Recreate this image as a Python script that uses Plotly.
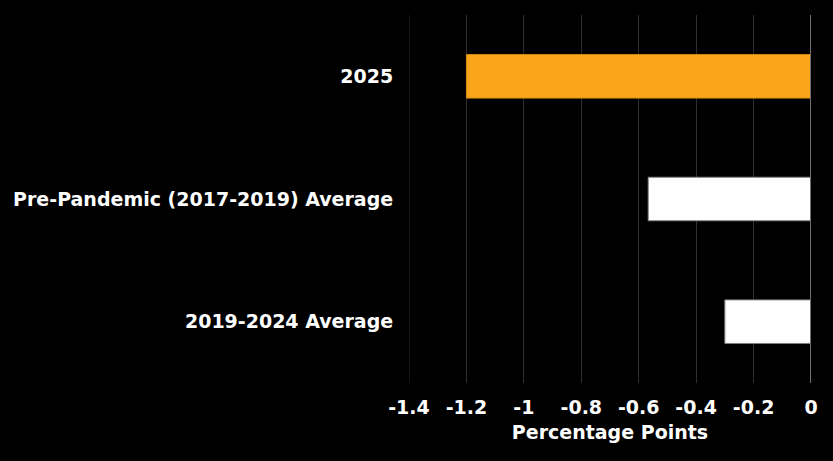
import plotly.graph_objects as go

categories = ["2019-2024 Average", "Pre-Pandemic (2017-2019) Average", "2025"]
values = [-0.30, -0.567, -1.20]
colors = ["#FFFFFF", "#FFFFFF", "#FBA51B"]
line_colors = ["#7F7F7F", "#7F7F7F", "#D08A10"]
tick_vals = [-1.4, -1.2, -1.0, -0.8, -0.6, -0.4, -0.2, 0]
tick_text = ["-1.4", "-1.2", "-1", "-0.8", "-0.6", "-0.4", "-0.2", "0"]

font_family = "DejaVu Sans"
fs = 19

fig = go.Figure(go.Bar(
    y=categories, x=values, orientation="h",
    marker=dict(color=colors, line=dict(color=line_colors, width=1)),
    width=0.355,
    hoverinfo="skip",
))

fig.update_layout(
    width=833, height=461,
    paper_bgcolor="#000000", plot_bgcolor="#000000",
    margin=dict(l=409, r=22, t=15, b=78),
    showlegend=False,
    font=dict(family=font_family, color="#FFFFFF", size=fs),
    xaxis=dict(
        range=[-1.4, 0.0], tickvals=tick_vals, ticktext=tick_text,
        showgrid=True, gridcolor="#2E2E2E", gridwidth=1,
        zeroline=False, showline=False,
        tickfont=dict(family=font_family, size=fs, color="#FFFFFF", weight="bold"),
        title=dict(text="<b>Percentage Points</b>", font=dict(family=font_family, size=fs, color="#FFFFFF"), standoff=8),
        ticks="outside", ticklen=7, tickcolor="rgba(0,0,0,0)", fixedrange=True,
    ),
    yaxis=dict(
        showgrid=False, zeroline=False, showline=False,
        tickfont=dict(family=font_family, size=fs, color="#FFFFFF", weight="bold"),
        ticks="outside", ticklen=11, tickcolor="rgba(0,0,0,0)",
        range=[-0.5, 2.5], fixedrange=True,
    ),
    shapes=[
        dict(type="line", xref="x", yref="paper", x0=tick_vals[0], x1=tick_vals[0], y0=0, y1=1,
             line=dict(color="#2E2E2E", width=1), layer="below"),
        dict(type="line", xref="x", yref="paper", x0=0, x1=0, y0=0, y1=1,
             line=dict(color="#707070", width=2)),
    ],
)

fig.write_html("out.html", config={"displayModeBar": False},
               post_script="document.body.style.margin='0';document.body.style.background='#000';")
